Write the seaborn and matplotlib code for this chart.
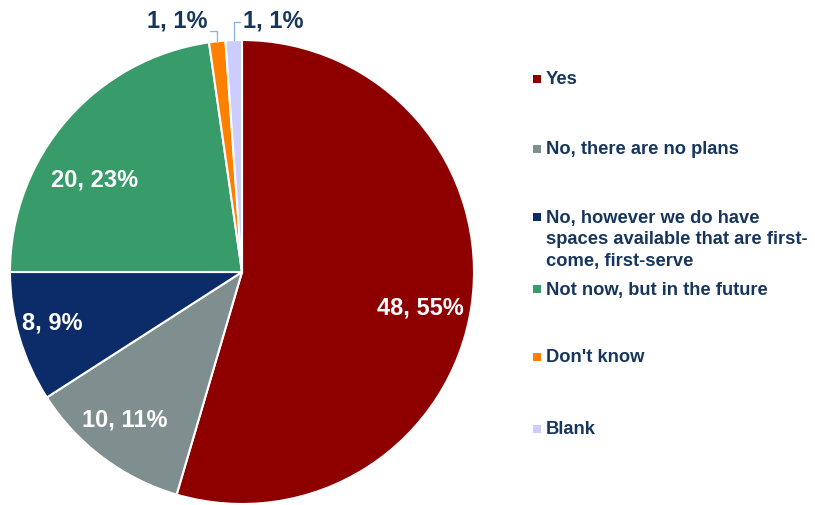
import matplotlib
matplotlib.use("Agg")
import matplotlib.pyplot as plt
import seaborn as sns
import numpy as np

categories = ["Yes", "No, there are no plans",
              "No, however we do have\nspaces available that are first-\ncome, first-serve",
              "Not now, but in the future", "Don't know", "Blank"]
counts = [48, 10, 8, 20, 1, 1]
pct_labels = ["55%", "11%", "9%", "23%", "1%", "1%"]
colors = ["#8E0000", "#7F8F8F", "#0C2C69", "#389B6A", "#FF8000", "#CCCCFF"]

sns.set_theme(style="white")
plt.rcParams['font.family'] = ['Liberation Sans', 'DejaVu Sans']
navy = "#17365D"

W, H = 815, 506
fig = plt.figure(figsize=(W / 100, H / 100), dpi=100)
cx, cy, r = 242, 273, 232
ax = fig.add_axes([(cx - r) / W, (H - cy - r) / H, 2 * r / W, 2 * r / H])
wedges, _ = ax.pie(counts, colors=colors, startangle=90, counterclock=False,
                   radius=1.0, wedgeprops=dict(edgecolor="white", linewidth=1.5))
ax.set_xlim(-1, 1)
ax.set_ylim(-1, 1)
ax.set_aspect("equal")
ax.axis("off")

# label placement (axes data units, layout only)
inside_pos = [(0.767, -0.151), (-0.504, -0.634), (-0.819, -0.216), (-0.634, 0.401)]
for i in range(4):
    txt = f"{counts[i]}, {pct_labels[i]}"
    x, y = inside_pos[i]
    ax.text(x, y, txt, color="white", fontsize=17, fontweight="bold",
            ha="center", va="center")

# outside labels for the small slices with leader lines
leader = "#8DB4E2"
outside = {4: (-0.28, 1.085, "left"), 5: (0.134, 1.085, "right")}
for i, (tx, ty, side) in outside.items():
    w = wedges[i]
    ang = np.deg2rad((w.theta1 + w.theta2) / 2)
    px, py = np.cos(ang), np.sin(ang)
    txt = f"{counts[i]}, {pct_labels[i]}"
    ax.text(tx, ty, txt, color=navy, fontsize=17, fontweight="bold",
            ha="center", va="center", clip_on=False)
    if side == "left":
        ax.plot([-0.138, px, px], [1.039, 1.039, py], color=leader,
                lw=1, clip_on=False)
    else:
        ax.plot([px, px, -0.009], [py, 1.078, 1.078], color=leader,
                lw=1, clip_on=False)

# legend
leg_y = [80, 150, 240, 290, 358, 430]
for lab, col, y in zip(categories, colors, leg_y):
    nlines = lab.count("\n") + 1
    top_y = y - (nlines - 1) * 22 / 2
    fig.patches.append(plt.Rectangle((533 / W, 1 - (top_y + 4) / H), 8 / W, 8 / H,
                                     transform=fig.transFigure, facecolor=col,
                                     edgecolor="none"))
    fig.text(546 / W, 1 - y / H, lab, color=navy, fontsize=13.2, fontweight="bold",
             ha="left", va="center", linespacing=1.35)

fig.savefig("out.png", dpi=100, facecolor="white")
